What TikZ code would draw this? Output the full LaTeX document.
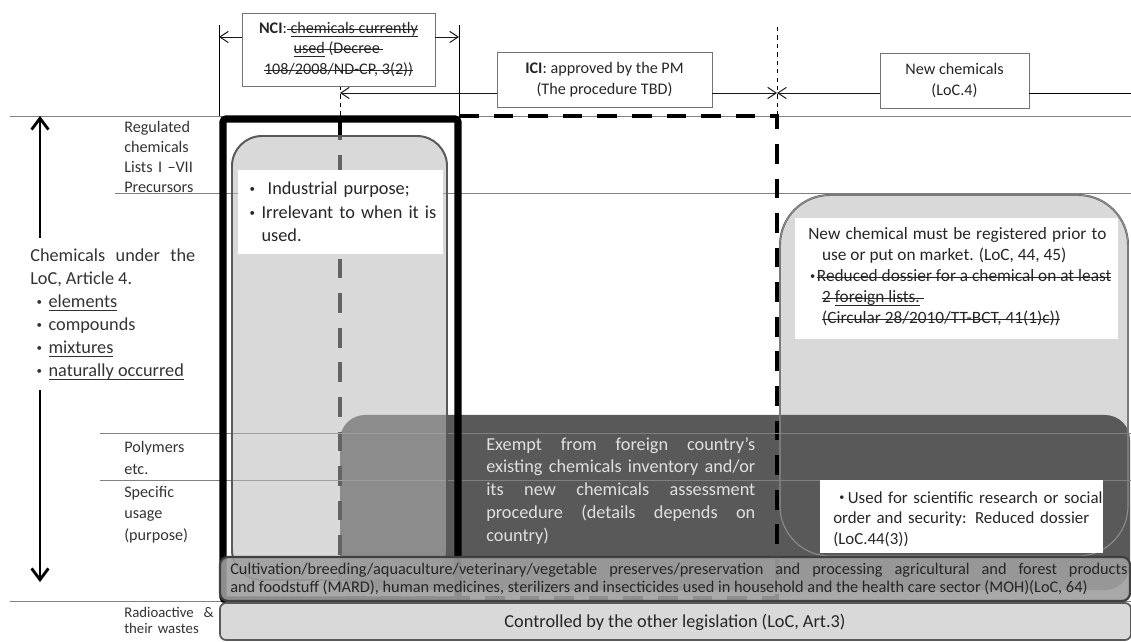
\documentclass[tikz,border=0pt]{standalone}
\usepackage{fontspec}
\setmainfont{Carlito}
\usepackage{graphicx}
\usetikzlibrary{arrows.meta}

\newcommand\jdot[1][1em]{\makebox[#1][c]{\raisebox{.12em}{\scalebox{.6}{\textbullet}}}}
\newcommand\strk[1]{\setbox0\hbox{#1}\rlap{\rule[.55ex]{\wd0}{.4pt}}\box0}
\newcommand\undl[1]{\setbox0\hbox{#1}\rlap{\rule[-.35ex]{\wd0}{.4pt}}\box0}
\newcommand\undstrk[1]{\setbox0\hbox{#1}\rlap{\rule[-.35ex]{\wd0}{.4pt}}\rlap{\rule[.55ex]{\wd0}{.4pt}}\box0}

\tikzset{
  guide/.style={draw=black!50,line width=.6pt},
  dimline/.style={draw=black!90,line width=.7pt,-{Straight Barb[length=6pt,width=8pt]}},
  bigarrow/.style={draw=black,line width=2pt,-{Straight Barb[length=8pt,width=12pt]}},
  spanbox/.style={draw=black!55,fill=white,line width=.6pt,align=center,inner sep=0pt,text=black!85,font=\fontsize{11.5}{14.5}\selectfont},
  sidelbl/.style={anchor=base west,text width=2.4cm,align=left,inner sep=0pt,text=black!80},
  bodytxt/.style={anchor=base west,inner sep=0pt,text=black!85,font=\fontsize{13}{16.3}\selectfont},
  icidash/.style={draw=black,line width=2.8pt,dash pattern=on 14pt off 10.6pt},
  finedash/.style={draw=black,line width=.7pt,dash pattern=on 3pt off 3pt},
}

\begin{document}
\begin{tikzpicture}[x=0.025cm,y=-0.025cm]
\useasboundingbox(0,0)rectangle(1131,642);
\draw[guide](10,116)--(1131,116);
\draw[guide](115,193)--(1131,193);
\draw[guide](10,601)--(1131,601);
\draw[fill=black!15,draw=black!65,line width=1.4pt,rounded corners=1.25cm](780,195)rectangle(1128,556);
\fill[black!65,rounded corners=.625cm](340,415)rectangle(1130,590);
\draw[draw=black!45,line width=.8pt,rounded corners=1.25cm](780,195)rectangle(1128,556);
\draw[icidash](459,116)--(777,116)--(777,598)--(340,598)--(340,116);
\draw[guide](100,433)--(1131,433);
\draw[guide](100,480)--(1131,480);
\draw[fill=black!28,fill opacity=.54,draw=black!65,line width=1.4pt,rounded corners=.75cm](232,136)rectangle(447,580);
\draw[line width=5pt,rounded corners=2pt](223,119)rectangle(458,600);
\fill[white](238,170)rectangle(443,254);
\fill[white](795,218)rectangle(1118,339);
\fill[white](820,480)rectangle(1103,553);
\draw[fill=black!38,fill opacity=.9,draw=black!75,line width=1.6pt,rounded corners=.2cm](220,557)rectangle(1130,601);
\draw[fill=black!15,draw=black!65,line width=1.2pt,rounded corners=.15cm](220,603)rectangle(1131,640);

\draw[line width=.7pt](219,25)--(219,116);
\draw[line width=.7pt](459,25)--(459,116);
\draw[finedash](777,27)--(777,116);
\draw[finedash](340,86)--(340,116);

\node[spanbox,minimum width=4.825cm,minimum height=1.825cm](nci)at(338.5,49.5){\textbf{NCI}:\strk{ }\undstrk{chemicals currently}\\\undstrk{used}\strk{ (Decree }\\\strk{108/2008/ND-CP, 3(2))}};
\node[spanbox,minimum width=5.375cm,minimum height=1.375cm](ici)at(604.5,79.5){\textbf{ICI}: approved by the PM\\(The procedure TBD)};
\node[spanbox,minimum width=3.725cm,minimum height=1.375cm](newc)at(954.5,80.5){New chemicals\\(LoC.4)};

\coordinate(nciL)at(219,37);\coordinate(nciR)at(459,37);
\draw[dimline](nci.west|-nciL)--(nciL);
\draw[dimline](nci.east|-nciR)--(nciR);
\coordinate(iciL)at(340,93);\coordinate(iciR)at(777,93);
\draw[dimline](ici.west|-iciL)--(iciL);
\draw[dimline](ici.east|-iciR)--(iciR);
\coordinate(newL)at(777,93);\coordinate(newR)at(1131,93);
\draw[dimline](newc.west|-newL)--(newL);
\draw[line width=.7pt](newc.east|-newR)--(newR);

\coordinate(vtop)at(40,116);\coordinate(vmidA)at(40,238);
\coordinate(vmidB)at(40,390);\coordinate(vbot)at(40,582);
\draw[bigarrow](vmidA)--(vtop);
\draw[bigarrow](vmidB)--(vbot);

\node[sidelbl,font=\fontsize{11.5}{14.2}\selectfont](reg)at(124,133){Regulated\\chemicals\\Lists I –VII\\Precursors};
\node[sidelbl,font=\fontsize{13}{16.3}\selectfont,text width=4.125cm,align=justify](loc)at(30,262){Chemicals under the\linebreak LoC, Article 4.\newline\jdot\undl{elements}\newline\jdot compounds\newline\jdot\undl{mixtures}\newline\jdot\undl{naturally occurred}};
\node[sidelbl,font=\fontsize{11.5}{15}\selectfont](poly)at(124,453){Polymers\\etc.};
\node[sidelbl,font=\fontsize{11.5}{15.3}\selectfont](spec)at(124,497){Specific\\usage\\(purpose)};
\node[sidelbl,font=\fontsize{10.5}{12}\selectfont](radio)at(124,617){Radioactive~~\&\\their wastes};

\node[bodytxt,font=\fontsize{13}{16.6}\selectfont,text width=5cm,align=left](indus)at(243,195){\jdot\ Industrial purpose;\\\jdot Irrelevant to when it is\\\hspace*{1em}used.};
\node[bodytxt,text=black!12,text width=6.725cm,align=justify](exempt)at(486,450){Exempt from foreign country’s\linebreak existing chemicals inventory and/or\linebreak its new chemicals assessment\linebreak procedure (details depends on\linebreak country)};
\node[bodytxt,font=\fontsize{12.3}{14.9}\selectfont,text width=7.45cm,align=justify](regnew)at(808,240){New chemical must be registered prior to\linebreak\hspace*{.8em}use or put on market. (LoC, 44, 45)\newline\jdot[.5em]\strk{Reduced dossier for a chemical on at least}\newline\hspace*{.8em}\strk{2 }\undstrk{foreign lists.}\strk{ }\newline\hspace*{.8em}\strk{(Circular 28/2010/TT-BCT, 41(1)c))}};
\node[bodytxt,font=\fontsize{12}{14.6}\selectfont,text width=7.6cm,align=left](sci)at(833,503){\mbox{\hspace*{2pt}\jdot[.7em]Used for scientific research or social}\\\mbox{order and security: Reduced dossier}\\(LoC.44(3))};
\node[bodytxt,font=\fontsize{11.6}{13.5}\selectfont,text width=22.425cm,align=justify](mard)at(230,574){Cultivation/breeding/aquaculture/veterinary/vegetable preserves/preservation and processing agricultural and forest products\linebreak\mbox{and foodstuff (MARD), human medicines, sterilizers and insecticides used in household and the health care sector (MOH)(LoC, 64)}};
\node[font=\fontsize{13}{16}\selectfont,text=black!85](ctrl)at(675,622){Controlled by the other legislation (LoC, Art.3)};
\end{tikzpicture}
\end{document}
